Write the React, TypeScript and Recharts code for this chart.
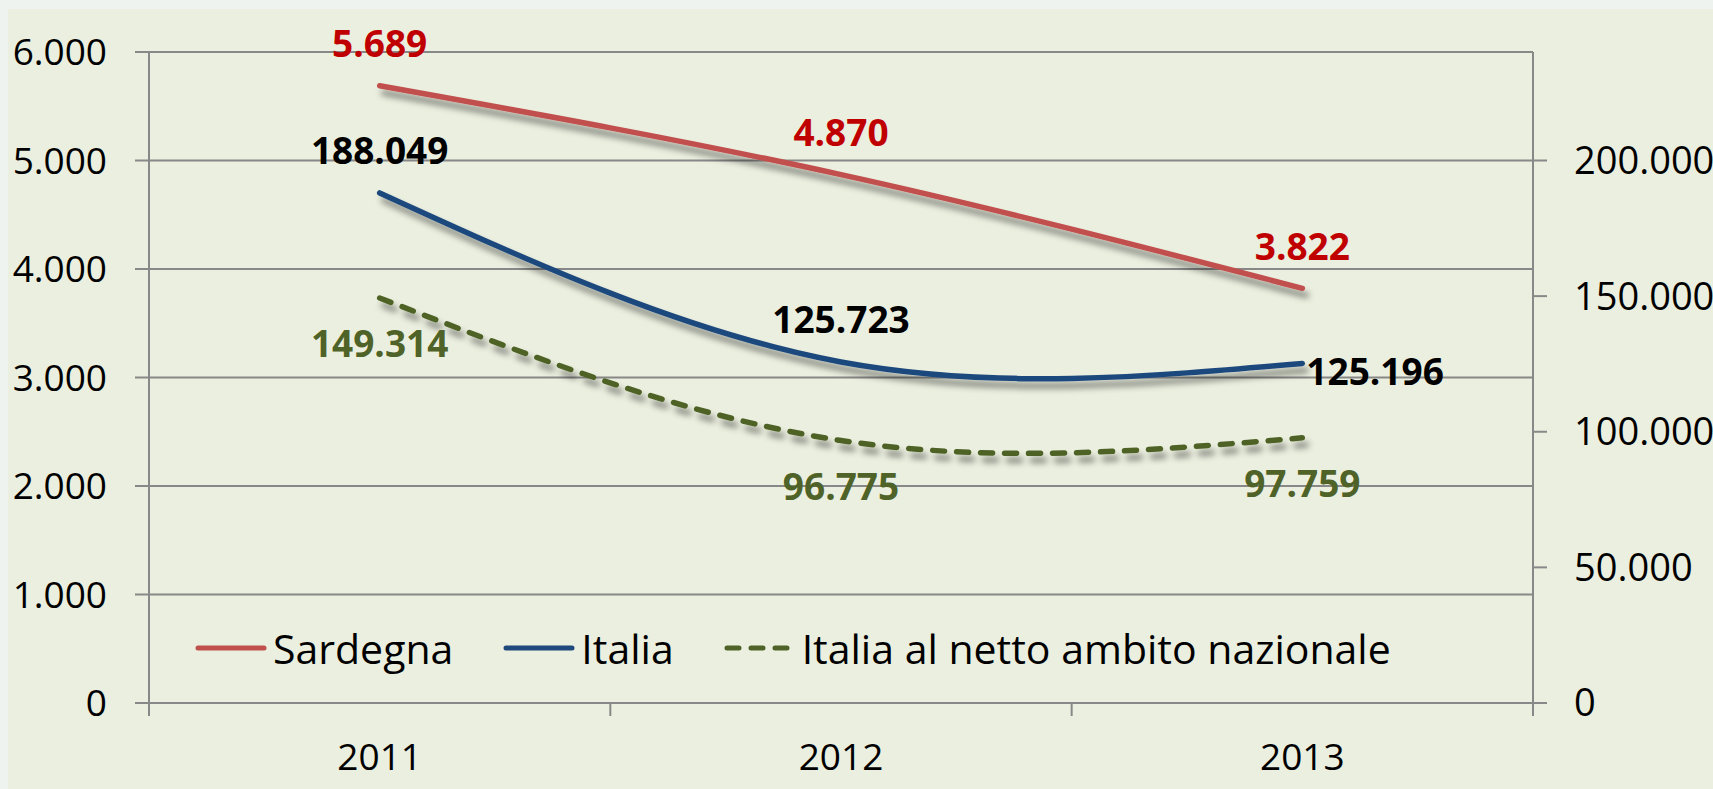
import React from 'react';
import { LineChart, Line, XAxis, YAxis, CartesianGrid, Legend, LabelList } from 'recharts';

const categories = ['2011', '2012', '2013'];
const sardegna = [5689, 4870, 3822];
const italia = [188049, 125723, 125196];
const italiaNetto = [149314, 96775, 97759];
const leftTicks = [0, 1000, 2000, 3000, 4000, 5000, 6000];
const rightTicks = [0, 50000, 100000, 150000, 200000];
const xTicks = [0, 0.5, 1, 1.5, 2, 2.5, 3];

const data = categories.map((c, i) => ({
  x: i + 0.5,
  year: c,
  sardegna: sardegna[i],
  italia: italia[i],
  netto: italiaNetto[i],
}));

const FONT = '"Open Sans", sans-serif';
const GRID = '#888888';

const fmt = (n: number) => String(n).replace(/\B(?=(\d{3})+(?!\d))/g, '.');

type Place = 'above' | 'below' | 'right';

const series = [
  { key: 'sardegna', name: 'Sardegna', color: '#C0504D', labelColor: '#C00000', axis: 'left', dash: undefined as string | undefined, places: ['above', 'above', 'above'] as Place[] },
  { key: 'italia', name: 'Italia', color: '#1F497D', labelColor: '#000000', axis: 'right', dash: undefined as string | undefined, places: ['above', 'above', 'right'] as Place[] },
  { key: 'netto', name: 'Italia al netto ambito nazionale', color: '#4F6228', labelColor: '#4F6228', axis: 'right', dash: '12 12', places: ['below', 'below', 'below'] as Place[] },
];

const makeLabel = (color: string, places: Place[]) => (props: any) => {
  const x = props.x ?? props.viewBox?.x;
  const y = props.y ?? props.viewBox?.y;
  const index = props.index ?? 0;
  const value = props.value;
  if (x == null || y == null || value == null) return null;
  const p = places[index];
  let tx = x;
  let ty = y;
  let anchor: 'middle' | 'start' = 'middle';
  if (p === 'above') ty = y - 42;
  else if (p === 'below') ty = y + 46;
  else {
    tx = x + 4;
    ty = y + 8;
    anchor = 'start';
  }
  return (
    <text key={`l-${index}`} x={tx} y={ty} dy="0.36em" textAnchor={anchor} fill={color} fontSize={37} fontWeight={700} fontFamily={FONT}>
      {fmt(Number(value))}
    </text>
  );
};

const XTick = (props: any) => {
  const { x, y, payload } = props;
  const v = payload.value as number;
  if (Number.isInteger(v)) {
    return <line x1={x} x2={x} y1={y} y2={y + 13} stroke={GRID} strokeWidth={2} />;
  }
  const idx = Math.floor(v);
  return (
    <text x={x} y={y + 54} dy="0.36em" textAnchor="middle" fill="#000" fontSize={37} fontFamily={FONT}>
      {categories[idx]}
    </text>
  );
};

const renderLegend = () => (
  <div style={{ display: 'flex', alignItems: 'center', height: 50, fontFamily: FONT, fontSize: 41, color: '#000', whiteSpace: 'nowrap' }}>
    {series.map((s) => (
      <div key={s.key} style={{ display: 'flex', alignItems: 'center', marginRight: 50 }}>
        <svg width={72} height={12} style={{ marginRight: 6 }}>
          <line x1={3} x2={s.dash ? 64 : 69} y1={6} y2={6} stroke={s.color} strokeWidth={5} strokeLinecap="round" strokeDasharray={s.dash} />
        </svg>
        <span style={{ lineHeight: '50px' }}>{s.name}</span>
      </div>
    ))}
  </div>
);

export default function App() {
  return (
    <div style={{ position: 'absolute', left: 0, top: 0, width: 1713, height: 789, background: '#EFF3F0', overflow: 'hidden' }}>
      <style>{`.recharts-line-curve { filter: url(#lineShadow); }`}</style>
      <div style={{ position: 'absolute', left: 8, top: 9, width: 1705, height: 780, background: '#EBEFDF' }}>
        <LineChart width={1705} height={780} data={data} margin={{ top: 43, right: 0, bottom: 0, left: 0 }} style={{ fontFamily: FONT }}>
          <defs>
            <filter id="lineShadow" filterUnits="userSpaceOnUse" x={0} y={0} width={1705} height={780}>
              <feDropShadow dx={4} dy={7} stdDeviation={3} floodColor="#000" floodOpacity={0.45} />
            </filter>
          </defs>
          <CartesianGrid yAxisId="left" vertical={false} stroke={GRID} strokeWidth={2} />
          <XAxis
            dataKey="x"
            type="number"
            domain={[0, 3]}
            ticks={xTicks}
            interval={0}
            height={86}
            tickSize={0}
            tickMargin={0}
            tickLine={false}
            axisLine={{ stroke: GRID, strokeWidth: 2 }}
            tick={<XTick />}
            allowDataOverflow
          />
          <YAxis
            yAxisId="left"
            orientation="left"
            domain={[0, 6000]}
            ticks={leftTicks}
            interval={0}
            width={141}
            tickSize={14}
            tickMargin={28}
            axisLine={{ stroke: GRID, strokeWidth: 2 }}
            tickLine={{ stroke: GRID, strokeWidth: 2 }}
            tick={{ fill: '#000', fontSize: 37, fontFamily: FONT }}
            tickFormatter={fmt}
          />
          <YAxis
            yAxisId="right"
            orientation="right"
            domain={[0, 240000]}
            ticks={rightTicks}
            interval={0}
            width={180}
            tickSize={14}
            tickMargin={27}
            axisLine={{ stroke: GRID, strokeWidth: 2 }}
            tickLine={{ stroke: GRID, strokeWidth: 2 }}
            tick={{ fill: '#000', fontSize: 38, fontFamily: FONT, textAnchor: 'start' }}
            tickFormatter={fmt}
          />
          {series.map((s) => (
            <Line
              key={s.key}
              yAxisId={s.axis}
              dataKey={s.key}
              name={s.name}
              type="natural"
              stroke={s.color}
              strokeWidth={5.5}
              strokeLinecap="round"
              strokeDasharray={s.dash}
              dot={false}
              activeDot={false}
              isAnimationActive={false}
            >
              <LabelList dataKey={s.key} content={makeLabel(s.labelColor, s.places)} />
            </Line>
          ))}
          <Legend
            layout="horizontal"
            verticalAlign="middle"
            align="center"
            wrapperStyle={{ top: 614, left: 187, width: 'auto', height: 50 }}
            content={renderLegend}
          />
        </LineChart>
      </div>
    </div>
  );
}
